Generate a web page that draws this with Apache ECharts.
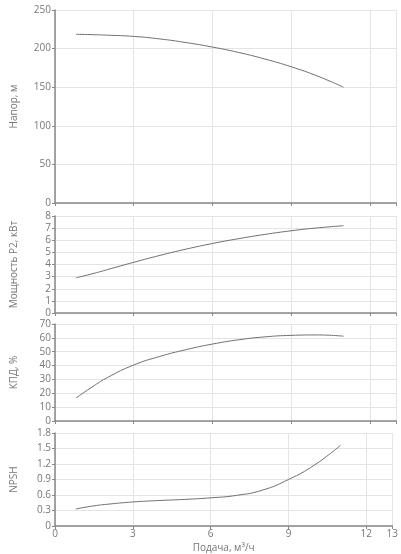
<!DOCTYPE html>
<html>
<head>
<meta charset="utf-8">
<script src="https://cdn.jsdelivr.net/npm/echarts@6/dist/echarts.min.js"></script>
<style>
  html, body { margin: 0; padding: 0; background: #fff; }
  #chart { width: 401px; height: 554px; }
</style>
</head>
<body>
<div id="chart"></div>
<script>
// подача, м3/ч
var flow = [0.8, 1.5, 2, 3, 4, 5, 6, 7, 8, 9, 10, 11];
var head = [218.5, 218, 217.4, 215.8, 212.5, 207.8, 202, 195, 186.5, 176.5, 164.5, 150];
var power = [2.9, 3.28, 3.58, 4.18, 4.75, 5.27, 5.73, 6.13, 6.48, 6.78, 7.02, 7.2];
var eff = [16.6, 25.6, 31.4, 40.4, 46.6, 51.5, 55.5, 58.6, 60.7, 61.8, 62.1, 61.2];
var npsh = [0.33, 0.39, 0.42, 0.465, 0.493, 0.515, 0.545, 0.593, 0.695, 0.9, 1.18, 1.56];

var yNames = ["Напор, м", "Мощность P2, кВт", "КПД, %", "NPSH"];
var yMax = [250, 8, 70, 1.8];
var yStep = [50, 1, 10, 0.3];
var xName = "Подача, м³/ч";

var textColor = "#777";
var font = "Open Sans";

function pairs(ys) {
  return flow.map(function (x, i) { return [x, ys[i]]; });
}

var grids = [
  { left: 55, right: 5, top: 10, height: 193 },
  { left: 55, right: 5, top: 216, height: 97 },
  { left: 55, right: 5, top: 324, height: 97 },
  { left: 55, right: 5, top: 433, height: 96 },
];

var xAxes = grids.map(function (g, i) {
  return {
    gridIndex: i,
    type: "value",
    min: 0,
    max: 13,
    interval: 3,
    name: i === 3 ? xName : "",
    nameLocation: "middle",
    nameGap: 17,
    nameTextStyle: { color: textColor, fontFamily: font, fontSize: 10 },
    axisLine: { show: true, lineStyle: { color: "#888", width: 1.5 } },
    axisTick: { show: true, length: 3, lineStyle: { color: "#888" } },
    axisLabel: { show: i === 3, color: textColor, fontFamily: font, fontSize: 10, margin: 3 },
    splitLine: { show: true, lineStyle: { color: "#e4e4e8" } },
  };
});

var yAxes = grids.map(function (g, i) {
  return {
    gridIndex: i,
    type: "value",
    min: 0,
    max: yMax[i],
    interval: yStep[i],
    name: yNames[i],
    nameLocation: "middle",
    nameGap: 36,
    nameTextStyle: { color: textColor, fontFamily: font, fontSize: 10 },
    axisLine: { show: true, lineStyle: { color: "#888", width: 1.5 } },
    axisTick: { show: true, length: 3, lineStyle: { color: "#888" } },
    axisLabel: { color: textColor, fontFamily: font, fontSize: 10, margin: 4, padding: [0, 0, 6, 0] },
    splitLine: { show: true, lineStyle: { color: "#e4e4e8" } },
  };
});

var lines = [head, power, eff, npsh].map(function (ys, i) {
  return {
    type: "line",
    xAxisIndex: i,
    yAxisIndex: i,
    data: pairs(ys),
    smooth: true,
    showSymbol: false,
    lineStyle: { color: "#707070", width: 1 },
    silent: true,
  };
});

var myChart = echarts.init(document.getElementById("chart"));
myChart.setOption({
  animation: false,
  backgroundColor: "#fff",
  grid: grids,
  xAxis: xAxes,
  yAxis: yAxes,
  series: lines,
});
</script>
</body>
</html>
